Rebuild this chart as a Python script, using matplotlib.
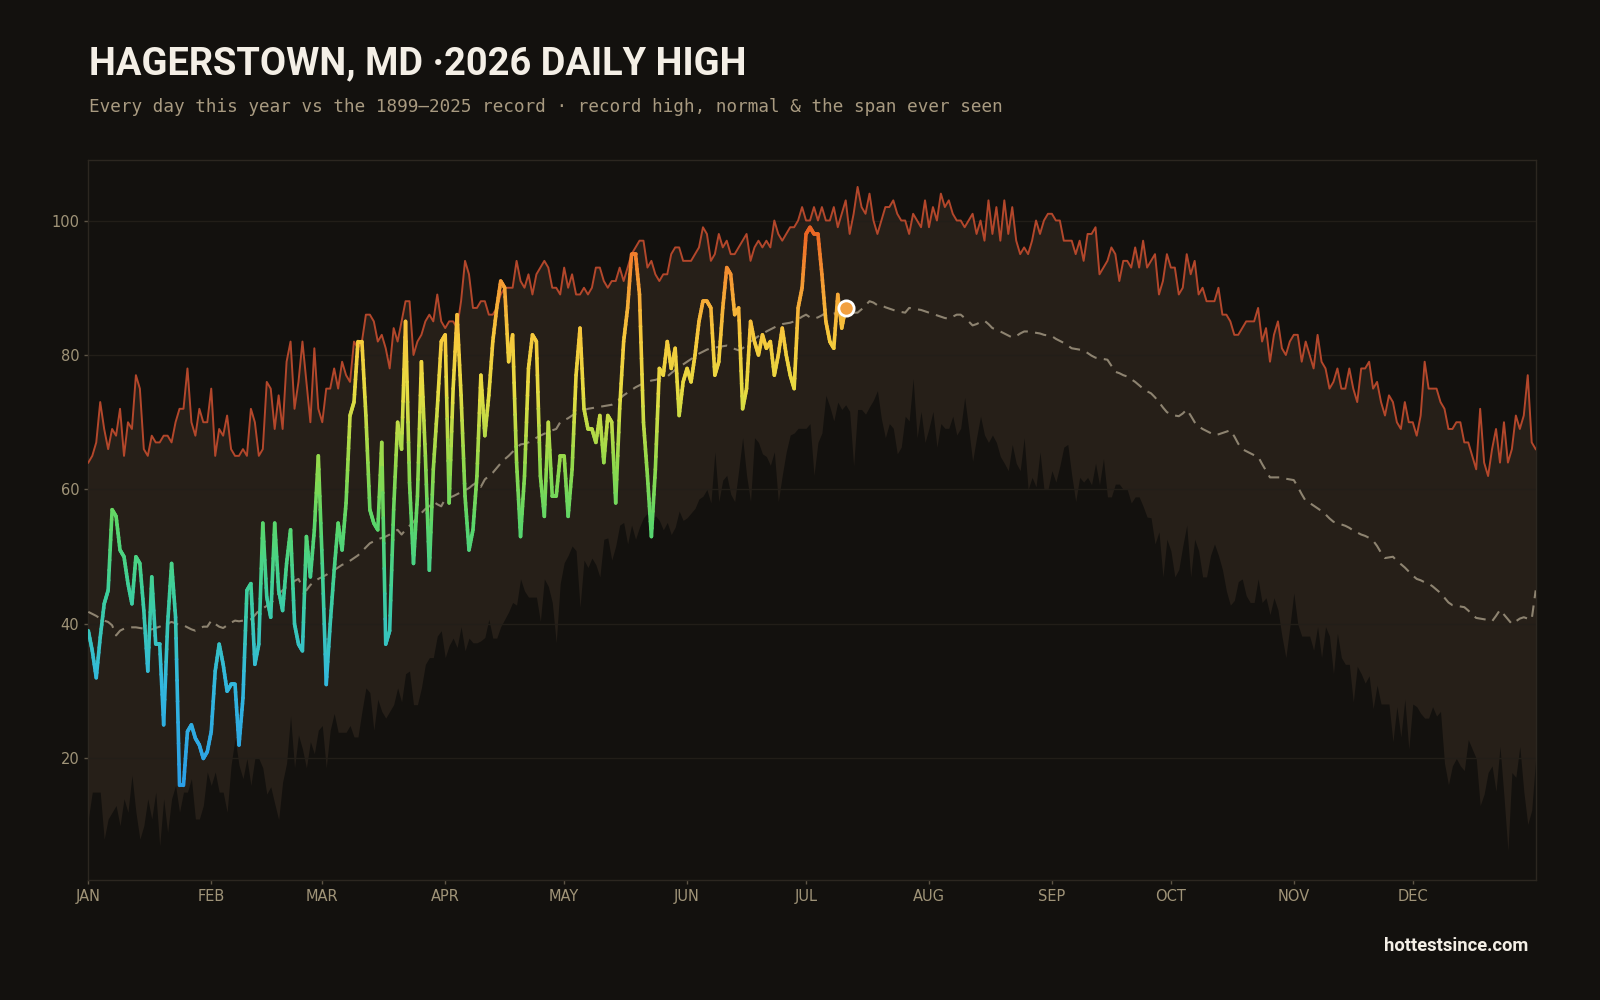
import numpy as np
import matplotlib
matplotlib.use("Agg")
import matplotlib.pyplot as plt
from matplotlib.collections import LineCollection
from matplotlib.colors import LinearSegmentedColormap, Normalize

# =========================
# DATA (day-of-year index 0 = Jan 1)
# =========================
record_high = [
    64, 65, 67, 73, 69, 66, 69, 68, 72, 65,
    70, 69, 77, 75, 66, 65, 68, 67, 67, 68,
    68, 67, 70, 72, 72, 78, 70, 68, 72, 70,
    70, 75, 65, 69, 68, 71, 66, 65, 65, 66,
    65, 72, 70, 65, 66, 76, 75, 69, 74, 69,
    79, 82, 72, 76, 82, 76, 70, 81, 72, 70,
    75, 75, 78, 75, 79, 77, 76, 82, 81, 82,
    86, 86, 85, 82, 83, 81, 78, 84, 82, 85,
    88, 88, 80, 82, 83, 85, 86, 85, 89, 85,
    84, 85, 85, 84, 88, 94, 92, 87, 87, 88,
    88, 86, 86, 87, 89, 90, 90, 90, 94, 91,
    90, 92, 89, 92, 93, 94, 93, 90, 90, 89,
    93, 90, 92, 89, 89, 90, 89, 90, 93, 93,
    91, 90, 91, 91, 93, 91, 93, 95, 96, 97,
    97, 93, 94, 92, 91, 92, 92, 95, 96, 96,
    94, 94, 94, 95, 96, 99, 98, 94, 95, 98,
    96, 97, 95, 95, 96, 97, 98, 94, 96, 97,
    96, 97, 96, 100, 98, 97, 98, 99, 99, 100,
    102, 100, 100, 102, 100, 102, 100, 100, 102, 99,
    101, 103, 98, 101, 105, 102, 101, 104, 100, 98,
    100, 102, 102, 103, 101, 100, 100, 98, 101, 100,
    99, 103, 99, 102, 100, 104, 102, 103, 101, 100,
    100, 99, 100, 101, 98, 100, 97, 103, 98, 102,
    97, 103, 98, 102, 97, 95, 96, 95, 97, 100,
    98, 100, 101, 101, 100, 100, 97, 97, 97, 95,
    97, 94, 98, 98, 99, 92, 93, 94, 96, 95,
    91, 94, 94, 93, 96, 93, 97, 93, 94, 95,
    89, 91, 95, 93, 93, 89, 90, 95, 92, 94,
    89, 90, 88, 88, 88, 90, 86, 86, 85, 83,
    83, 84, 85, 85, 85, 87, 82, 84, 79, 83,
    85, 81, 80, 82, 83, 83, 79, 82, 80, 78,
    83, 79, 78, 75, 76, 78, 75, 75, 78, 75,
    73, 78, 78, 79, 75, 76, 73, 71, 74, 73,
    70, 69, 73, 70, 70, 68, 71, 79, 75, 75,
    75, 73, 72, 69, 69, 70, 70, 67, 67, 65,
    63, 72, 64, 62, 66, 69, 64, 70, 64, 66,
    71, 69, 71, 77, 67, 66,
]

record_low = [
    11, 15, 15, 15, 8, 11, 12, 13, 10, 14,
    12, 17.5, 12, 8, 10, 14, 11, 15, 7, 14,
    9, 14, 16, 12, 15, 15, 17, 11, 11, 13,
    18, 16, 18, 15, 15, 12, 19, 23, 19, 17,
    20, 16, 20, 20, 18.6, 14.7, 15.8, 13.3, 10.9, 16.5,
    19.3, 26.3, 18.6, 23.5, 21.4, 18.6, 22.5, 20.7, 24.2, 24.9,
    18.6, 24.2, 26.7, 23.9, 23.9, 23.9, 24.9, 23.2, 23.2, 27,
    30.5, 29.8, 24.2, 28.8, 27, 26, 27, 28, 30.5, 28.4,
    32.6, 33, 28, 28, 30.5, 34, 35, 35, 38.2, 39,
    35, 36.8, 37.9, 36.5, 39.6, 36, 37.9, 37.2, 37.2, 37.5,
    38, 40.7, 37.9, 37.9, 39.6, 40.7, 41.8, 43.2, 42.8, 46.7,
    44.9, 44, 44, 44, 40.4, 46.7, 45.6, 43.2, 37.2, 46,
    49.1, 50.2, 51.6, 50.9, 42.5, 49.5, 48.4, 49.8, 48.8, 47,
    52.6, 52.8, 49.5, 51.6, 54.7, 55.1, 51.9, 54.7, 52.6, 54.4,
    55.8, 56.5, 55.1, 56.1, 55.4, 54, 55.1, 53.3, 54.4, 56.8,
    55.4, 55.8, 56.5, 57.2, 58.6, 59, 60, 58, 65.6, 58.2,
    61.4, 62.1, 59.3, 58.2, 62.8, 67.7, 62.1, 58.2, 67.7, 67,
    65.3, 64.9, 63.6, 65.6, 58.2, 62.1, 65.6, 68.1, 68.4, 69.1,
    69.1, 69.1, 69.8, 62.1, 67, 68.4, 74, 72.3, 70.2, 73,
    71.9, 72.6, 71.6, 63.5, 71.9, 71.9, 71.2, 72.3, 73.3, 74.7,
    70.5, 67.7, 69.8, 69.1, 65.3, 66.3, 70.9, 70.2, 76.5, 67.7,
    71.6, 67, 69.1, 71.6, 66.3, 69.8, 69.1, 69.1, 70.9, 68.1,
    69.1, 73.7, 69.1, 64.2, 67.7, 70.9, 68.1, 67, 68.1, 67,
    64.9, 63.9, 62.8, 66.7, 63.9, 62.8, 67.7, 60, 61.8, 60.4,
    65.6, 60, 60, 62.8, 61.1, 63.5, 66.3, 66.7, 62.1, 58.2,
    61.8, 61.1, 61.8, 60.7, 63.9, 60.7, 64.6, 58.9, 58.9, 60.8,
    60.8, 60, 60, 58, 58.9, 58.9, 57.5, 55.9, 55.8, 51.9,
    53.7, 47, 52.6, 50.9, 47, 48.1, 51.6, 54.7, 47, 52.6,
    50.9, 47, 47, 50.2, 51.9, 50.2, 48.1, 44.9, 42.8, 43.5,
    46.3, 46.7, 44.2, 43.2, 43.2, 46.7, 43.2, 43.9, 41.4, 43.9,
    42.1, 38.2, 35, 39.6, 44.6, 40, 38.2, 38.2, 38.2, 36.1,
    39.6, 35, 39.6, 38.2, 32.6, 38.6, 35, 34, 34, 28.4,
    33.7, 32.6, 31.2, 32.3, 27.4, 30.9, 28.1, 28.1, 28.1, 22.5,
    27.7, 23.2, 28.8, 21.4, 28.1, 27.7, 26.7, 26, 26, 27.7,
    26.3, 27, 19.3, 16.1, 18.9, 20, 18.9, 18.2, 22.8, 21.4,
    20, 13, 14.7, 17.9, 18.9, 15.1, 21.8, 14.4, 6.3, 17.9,
    17.2, 21.8, 15.1, 10.2, 12.3, 20,
]

normal_high = [
    41.8, 41.5, 41.2, 40.8, 40.5, 40.3, 39.8, 38.3, 39.0, 39.3,
    39.4, 39.5, 39.5, 39.4, 39.3, 39.2, 39.2, 39.4, 39.6, 39.9,
    40.1, 40.3, 40.1, 39.8, 39.8, 39.5, 39.2, 39.0, 39.3, 39.6,
    39.6, 40.5, 40.0, 39.6, 39.4, 39.8, 40.2, 40.5, 40.4, 40.5,
    40.6, 40.7, 41.3, 42.0, 42.3, 42.7, 43.0, 43.8, 44.5, 45.0,
    45.5, 45.9, 46.4, 46.7, 45.5, 45.0, 45.8, 46.3, 46.7, 47.0,
    47.3, 47.7, 48.0, 48.4, 48.8, 49.0, 49.4, 49.8, 50.2, 50.8,
    51.4, 52.0, 52.3, 52.6, 52.8, 53.0, 53.3, 53.7, 54.0, 53.3,
    54.0, 54.6, 55.2, 55.8, 56.5, 57.1, 57.5, 58.2, 57.8, 57.5,
    58.6, 58.8, 59.0, 59.3, 59.6, 59.9, 60.2, 60.7, 61.0, 60.4,
    61.5, 62.0, 62.5, 63.2, 63.9, 64.5, 65.0, 65.6, 66.2, 66.7,
    66.8, 67.0, 67.3, 67.7, 68.0, 68.3, 68.5, 68.8, 69.0, 70.0,
    70.3, 70.6, 71.0, 71.3, 71.6, 71.8, 72.0, 72.1, 72.2, 72.3,
    72.4, 72.5, 72.6, 73.0, 73.5, 74.0, 74.4, 74.8, 75.2, 75.5,
    75.8, 76.0, 76.2, 76.3, 76.5, 76.6, 76.8, 77.3, 77.8, 78.2,
    78.6, 79.0, 79.4, 79.8, 80.2, 80.5, 80.8, 81.0, 81.1, 81.2,
    81.3, 81.4, 81.2, 80.9, 80.7, 81.0, 81.5, 82.0, 82.4, 82.8,
    83.1, 83.5, 83.8, 84.1, 84.4, 84.6, 84.7, 84.8, 85.0, 85.3,
    85.7, 86.0, 85.6, 85.4, 85.6, 85.9, 86.3, 86.2, 86.2, 86.1,
    86.1, 86.2, 86.2, 86.3, 86.3, 86.8, 87.4, 88.0, 87.8, 87.4,
    87.4, 87.1, 86.9, 86.7, 86.5, 86.4, 86.3, 87.0, 86.9, 86.8,
    86.7, 86.5, 86.3, 86.1, 85.9, 85.7, 85.5, 85.4, 85.7, 86.0,
    86.0, 85.5, 85.0, 84.4, 84.6, 84.9, 85.1, 84.6, 84.0, 83.8,
    83.5, 83.2, 82.9, 82.6, 82.8, 83.2, 83.5, 83.5, 83.4, 83.3,
    83.2, 83.0, 82.9, 82.8, 82.4, 82.1, 81.8, 81.4, 81.0, 80.9,
    80.8, 80.7, 80.3, 79.9, 79.6, 79.5, 79.4, 79.3, 78.4, 77.5,
    77.3, 77.0, 76.8, 76.4, 76.0, 75.5, 75.0, 74.6, 74.3, 73.7,
    73.0, 72.2, 71.5, 71.2, 71.0, 70.9, 71.3, 71.9, 71.0, 70.0,
    69.4, 69.0, 68.7, 68.4, 68.1, 68.2, 68.4, 68.6, 68.8, 67.9,
    66.8, 66.0, 65.7, 65.4, 65.1, 64.9, 63.8, 62.8, 61.8, 61.8,
    61.8, 61.8, 61.6, 61.5, 61.4, 60.4, 59.3, 58.3, 58.0, 57.6,
    57.2, 56.8, 56.3, 55.7, 55.2, 55.0, 54.8, 54.6, 54.3, 53.9,
    53.6, 53.3, 53.1, 52.8, 52.4, 51.6, 50.6, 49.8, 49.9, 50.0,
    49.4, 48.9, 48.4, 47.8, 47.2, 46.7, 46.5, 46.2, 46.0, 45.6,
    45.1, 44.6, 43.9, 43.2, 42.8, 42.7, 42.6, 42.5, 42.0, 41.4,
    40.9, 40.8, 40.7, 40.6, 40.4, 41.2, 42.1, 41.4, 40.7, 40.0,
    40.4, 40.8, 41.0, 40.8, 40.7, 45.0,
]

high_2026 = [
    39, 36, 32, 38, 43, 45, 57, 56, 51, 50,
    46, 43, 50, 49, 42, 33, 47, 37, 37, 25,
    40, 49, 41, 16, 16, 24, 25, 23, 22, 20,
    21, 24, 33, 37, 34, 30, 31, 31, 22, 29,
    45, 46, 34, 37, 55, 44, 41, 55, 45, 42,
    49, 54, 40, 37, 36, 53, 47, 54, 65, 49,
    31, 40, 48, 55, 51, 58, 71, 73, 82, 82,
    71, 57, 55, 54, 67, 37, 39, 57, 70, 66,
    85, 61, 49, 59, 79, 65, 48, 63, 72, 82,
    83, 58, 75, 86, 74, 59, 51, 54, 62, 77,
    68, 74, 82, 87, 91, 90, 79, 83, 64, 53,
    62, 78, 83, 82, 62, 56, 70, 59, 59, 65,
    65, 56, 63, 77, 84, 72, 69, 69, 67, 71,
    64, 71, 70, 58, 72, 82, 87, 95, 95, 89,
    70, 62, 53, 63, 78, 77, 82, 78, 81, 71,
    76, 78, 76, 80, 85, 88, 88, 87, 77, 79,
    87, 93, 92, 86, 87, 72, 75, 85, 82, 80,
    83, 81, 82, 77, 80, 84, 80, 77, 75, 87,
    90, 98, 99, 98, 98, 92, 85, 82, 81, 89,
    84, 87,
]

month_starts = [0, 31, 59, 90, 120, 151, 181, 212, 243, 273, 304, 334]
month_labels = ['JAN', 'FEB', 'MAR', 'APR', 'MAY', 'JUN',
                'JUL', 'AUG', 'SEP', 'OCT', 'NOV', 'DEC']
y_ticks = [20, 40, 60, 80, 100]

# =========================
# STYLE
# =========================
BG = '#13110e'
SPAN = '#261f18'
GRID = '#221e18'
RED = '#b3472b'
NORMAL = '#a09580'
TICK = '#a09478'

days = np.arange(len(record_high))
days_2026 = np.arange(len(high_2026))

fig = plt.figure(figsize=(16, 10), dpi=100, facecolor=BG)
ax = fig.add_axes([0.0552, 0.1205, 0.9046, 0.7195])
ax.set_facecolor(BG)

# span ever seen (lowest daily high -> record high)
ax.fill_between(days, record_low, record_high, color=SPAN, lw=0, zorder=1)
for yv in y_ticks:
    ax.axhline(yv, color=GRID, lw=1, zorder=1.5)

ax.plot(days, record_high, color=RED, lw=1.4, zorder=3)
ax.plot(days, normal_high, color=NORMAL, lw=1.5, ls=(0, (5.5, 3.5)), alpha=0.85, zorder=3)

# 2026 line, coloured by temperature (vertical gradient)
cmap = LinearSegmentedColormap.from_list('temp', [
    (0.00, '#2b9de8'), (0.20, '#33b9dc'), (0.35, '#3dcf9c'),
    (0.47, '#5bd66a'), (0.57, '#8fd94c'), (0.70, '#e6dc42'),
    (0.80, '#f7c83c'), (0.88, '#f5a236'), (0.95, '#f0782a'),
    (1.00, '#e85a20')])
norm = Normalize(15, 100)
pts = np.column_stack([days_2026, high_2026]).astype(float)
sub = 8
segs, vals = [], []
for a, b in zip(pts[:-1], pts[1:]):
    t = np.linspace(0, 1, sub + 1)
    p = a + (b - a) * t[:, None]
    for i in range(sub):
        segs.append(p[i:i + 2])
        vals.append((p[i, 1] + p[i + 1, 1]) / 2)
lc = LineCollection(segs, colors=cmap(norm(np.array(vals))), linewidths=2.6,
                    capstyle='round', joinstyle='round', zorder=4)
ax.add_collection(lc)

ax.plot(days_2026[-1], high_2026[-1], 'o', ms=11, mfc='#f2a040', mec='white',
        mew=2, zorder=5)

ax.set_xlim(0, 365)
ax.set_ylim(2, 109)
ax.set_xticks(month_starts)
ax.set_xticklabels(month_labels)
ax.set_yticks(y_ticks)
ax.tick_params(colors='#5e5546', labelcolor=TICK, labelsize=10.5, length=3, width=1)
for s in ax.spines.values():
    s.set_color('#2c2720')
    s.set_linewidth(1)

fig.text(0.0555, 0.9255, 'HAGERSTOWN, MD ·2026 DAILY HIGH', color='#f4efe6',
         fontsize=27.4, fontweight='bold', family='Roboto')
fig.text(0.0555, 0.8885, 'Every day this year vs the 1899\u20132025 record \u00b7 record high, normal & the span ever seen',
         color='#a89a80', fontsize=12.7, family='DejaVu Sans Mono')
fig.text(0.955, 0.049, 'hottestsince.com', color='#f4efe6', fontsize=13.2,
         fontweight='bold', family='Roboto', ha='right')

fig.savefig('out.png', dpi=100, facecolor=BG)
